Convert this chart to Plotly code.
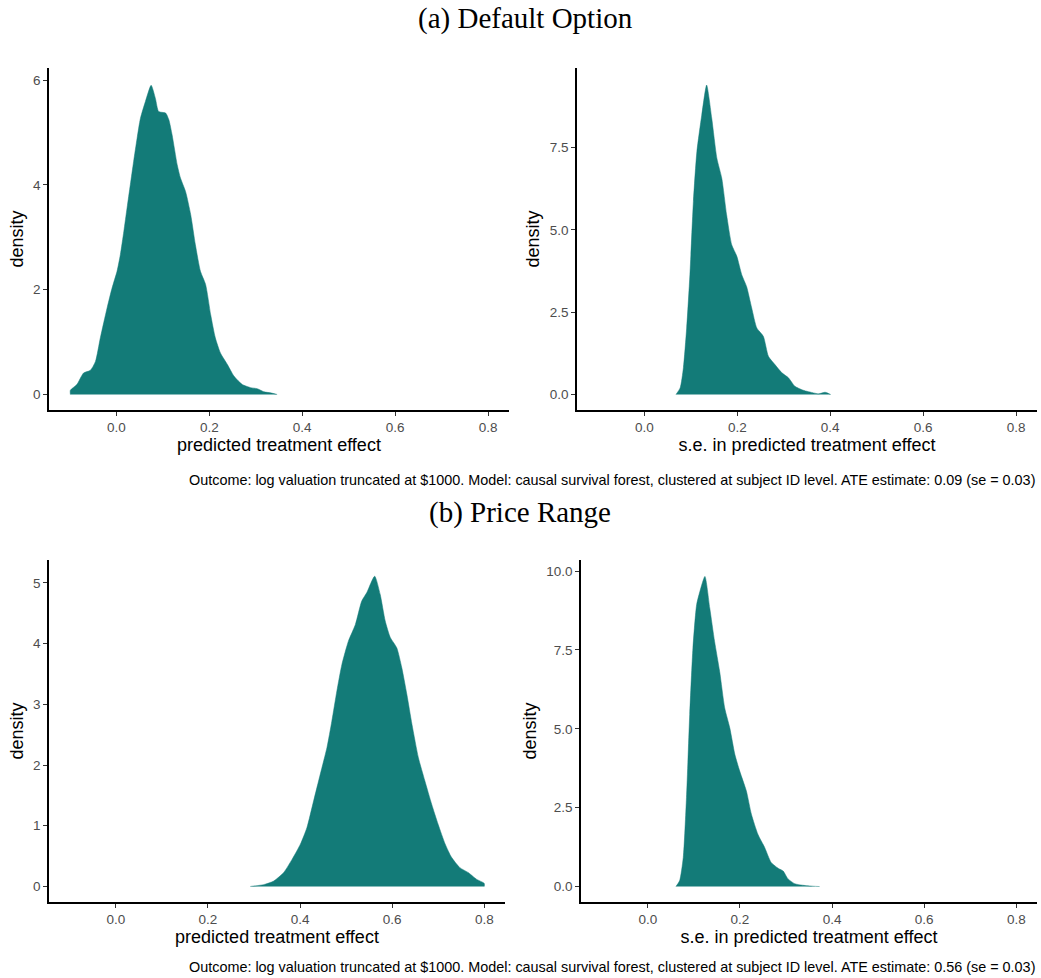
import plotly.graph_objects as go

# ---------------- data ----------------
a_effect_x = [-0.099, -0.099, -0.085, -0.0705, -0.056, -0.045, -0.0345, -0.020, -0.0093, 0.0014, 0.0086,
              0.016, 0.023, 0.030, 0.037, 0.0446, 0.0518, 0.0625, 0.0748, 0.084, 0.091, 0.106, 0.113,
              0.120, 0.131, 0.138, 0.149, 0.160, 0.170, 0.181, 0.192, 0.203, 0.213, 0.224, 0.239,
              0.253, 0.271, 0.289, 0.303, 0.318, 0.332, 0.346]
a_effect_y = [0.0, 0.08, 0.19, 0.41, 0.46, 0.63, 1.08, 1.65, 2.03, 2.35, 2.67,
              3.11, 3.56, 4.00, 4.44, 4.89, 5.27, 5.59, 5.90, 5.65, 5.40, 5.37, 5.24,
              4.95, 4.38, 4.13, 3.87, 3.43, 2.86, 2.35, 2.10, 1.52, 1.08, 0.79, 0.57,
              0.35, 0.19, 0.13, 0.11, 0.05, 0.03, 0.0]

a_se_x = [0.068, 0.077, 0.084, 0.091, 0.098, 0.1055, 0.113, 0.1235, 0.134, 0.145, 0.156, 0.1666,
          0.177, 0.188, 0.199, 0.2096, 0.220, 0.231, 0.242, 0.256, 0.267, 0.281, 0.296, 0.310,
          0.324, 0.342, 0.364, 0.375, 0.389, 0.401]
a_se_y = [0.0, 0.20, 0.81, 2.02, 3.64, 5.86, 7.38, 8.49, 9.40, 8.39, 7.18, 6.57,
          5.46, 4.55, 4.20, 3.64, 3.28, 2.63, 2.02, 1.77, 1.16, 0.91, 0.66, 0.51,
          0.25, 0.13, 0.05, 0.02, 0.07, 0.0]

b_effect_x = [0.292, 0.321, 0.343, 0.3645, 0.383, 0.401, 0.415, 0.4295, 0.444, 0.4585, 0.469, 0.480,
              0.491, 0.505, 0.520, 0.534, 0.545, 0.562, 0.574, 0.585, 0.596, 0.610, 0.621, 0.632,
              0.643, 0.657, 0.671, 0.686, 0.700, 0.715, 0.729, 0.747, 0.765, 0.783, 0.800, 0.800]
b_effect_y = [0.0, 0.03, 0.09, 0.23, 0.45, 0.70, 0.97, 1.41, 1.85, 2.29, 2.72, 3.22,
              3.66, 4.04, 4.31, 4.70, 4.84, 5.11, 4.81, 4.37, 4.10, 3.93, 3.60, 3.16,
              2.67, 2.12, 1.74, 1.35, 1.02, 0.70, 0.48, 0.31, 0.23, 0.12, 0.05, 0.0]

b_se_x = [0.061, 0.069, 0.077, 0.084, 0.091, 0.098, 0.106, 0.113, 0.124, 0.1345, 0.145, 0.156,
          0.167, 0.178, 0.189, 0.1996, 0.214, 0.225, 0.239, 0.254, 0.268, 0.283, 0.294, 0.304,
          0.319, 0.337, 0.359, 0.373]
b_se_y = [0.0, 0.18, 0.92, 2.82, 5.45, 7.56, 8.93, 9.35, 9.83, 8.83, 7.77, 6.82,
          5.66, 5.03, 4.19, 3.66, 3.03, 2.29, 1.66, 1.23, 0.76, 0.58, 0.49, 0.25,
          0.09, 0.04, 0.01, 0.0]

x_ticks = [0.0, 0.2, 0.4, 0.6, 0.8]
x_ticklabels = ["0.0", "0.2", "0.4", "0.6", "0.8"]
y_ticks_a_effect = [0, 2, 4, 6]
y_ticklabels_a_effect = ["0", "2", "4", "6"]
y_ticks_a_se = [0, 2.5, 5, 7.5]
y_ticklabels_a_se = ["0.0", "2.5", "5.0", "7.5"]
y_ticks_b_effect = [0, 1, 2, 3, 4, 5]
y_ticklabels_b_effect = ["0", "1", "2", "3", "4", "5"]
y_ticks_b_se = [0, 2.5, 5, 7.5, 10]
y_ticklabels_b_se = ["0.0", "2.5", "5.0", "7.5", "10.0"]

title_a = "(a) Default Option"
title_b = "(b) Price Range"
caption_a = "Outcome: log valuation truncated at $1000. Model: causal survival forest, clustered at subject ID level. ATE estimate: 0.09 (se = 0.03)"
caption_b = "Outcome: log valuation truncated at $1000. Model: causal survival forest, clustered at subject ID level. ATE estimate: 0.56 (se = 0.03)"
xlabel_effect = "predicted treatment effect"
xlabel_se = "s.e. in predicted treatment effect"
ylabel = "density"

# ---------------- layout helpers ----------------
W, H = 1041, 978
FILL = "#137B78"
SANS = "Liberation Sans, Arial, sans-serif"
SERIF = "Liberation Serif, Times New Roman, serif"


def px_x(p):
    return p / W


def px_y(p):
    return 1 - p / H


panels = [
    (a_effect_x, a_effect_y, (49, 509), (68, 410), [-0.297, 6.23], y_ticks_a_effect, y_ticklabels_a_effect, xlabel_effect),
    (a_se_x, a_se_y, (577, 1037), (68, 410), [-0.47, 9.92], y_ticks_a_se, y_ticklabels_a_se, xlabel_se),
    (b_effect_x, b_effect_y, (49, 505), (560, 902), [-0.256, 5.376], y_ticks_b_effect, y_ticklabels_b_effect, xlabel_effect),
    (b_se_x, b_se_y, (581, 1037), (560, 902), [-0.49, 10.35], y_ticks_b_se, y_ticklabels_b_se, xlabel_se),
]

fig = go.Figure()
layout = dict(
    width=W, height=H,
    margin=dict(l=0, r=0, t=0, b=0),
    paper_bgcolor="white", plot_bgcolor="white",
    showlegend=False,
    font=dict(family=SANS, color="black"),
)

annotations = []
for i, (xs, ys, xd, yd, yr, yt, ytl, xl) in enumerate(panels):
    n = "" if i == 0 else str(i + 1)
    fig.add_trace(go.Scatter(
        x=xs, y=ys, mode="lines", fill="tozeroy",
        fillcolor=FILL, line=dict(color=FILL, width=0.5, shape="spline", smoothing=0.6),
        xaxis="x" + n, yaxis="y" + n, hoverinfo="skip",
    ))
    axis_common = dict(
        showgrid=False, zeroline=False, showline=True, linecolor="black", linewidth=1.5,
        ticks="outside", ticklen=4, tickwidth=1, tickcolor="#333333",
        tickfont=dict(family=SANS, size=13.5, color="#4D4D4D"),
    )
    layout["xaxis" + n] = dict(
        axis_common, domain=[px_x(xd[0]), px_x(xd[1])], range=[-0.145, 0.845],
        tickvals=x_ticks, ticktext=x_ticklabels, anchor="y" + n,
        title=dict(text=xl, font=dict(family=SANS, size=18, color="black"), standoff=1),
    )
    layout["yaxis" + n] = dict(
        axis_common, domain=[px_y(yd[1]), px_y(yd[0])], range=yr,
        tickvals=yt, ticktext=ytl, anchor="x" + n,
        title=dict(text=ylabel, font=dict(family=SANS, size=18, color="black"), standoff=5),
    )

annotations.append(dict(text=title_a, x=px_x(525), y=px_y(18), xref="paper", yref="paper",
                        xanchor="center", yanchor="middle", showarrow=False,
                        font=dict(family=SERIF, size=29, color="black")))
annotations.append(dict(text=title_b, x=px_x(520), y=px_y(512), xref="paper", yref="paper",
                        xanchor="center", yanchor="middle", showarrow=False,
                        font=dict(family=SERIF, size=29, color="black")))
annotations.append(dict(text=caption_a, x=px_x(1037), y=px_y(480), xref="paper", yref="paper",
                        xanchor="right", yanchor="middle", showarrow=False,
                        font=dict(family=SANS, size=14.4, color="black")))
annotations.append(dict(text=caption_b, x=px_x(1037), y=px_y(967), xref="paper", yref="paper",
                        xanchor="right", yanchor="middle", showarrow=False,
                        font=dict(family=SANS, size=14.4, color="black")))
layout["annotations"] = annotations

fig.update_layout(**layout)
fig.write_html("out.html", config={"displayModeBar": False},
               post_script="document.body.style.margin='0';")
